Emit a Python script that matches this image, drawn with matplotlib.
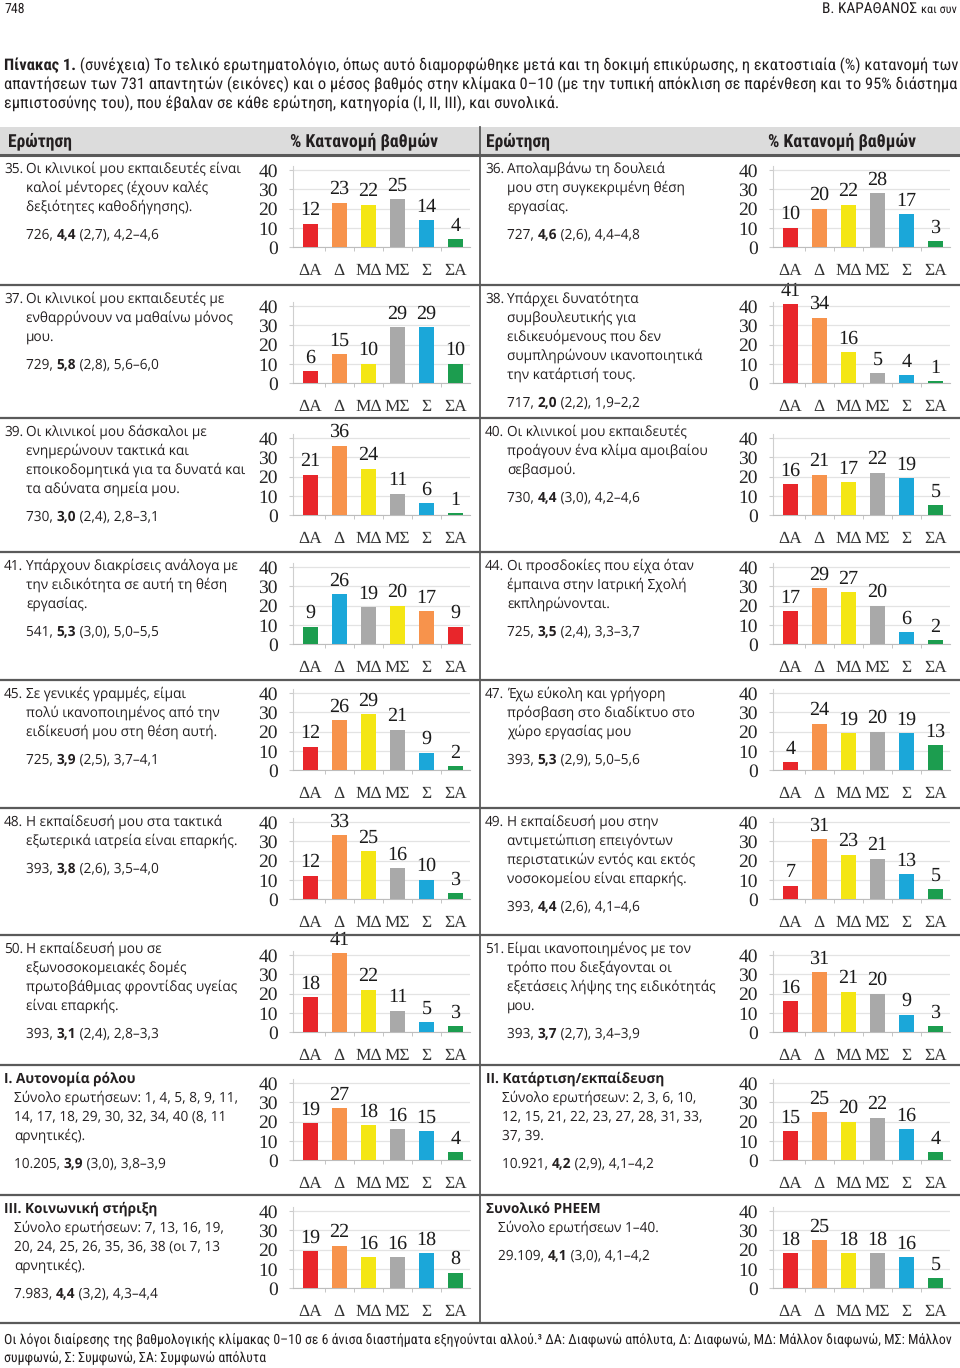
import matplotlib
matplotlib.use('Agg')
import matplotlib.pyplot as plt
from matplotlib.lines import Line2D
from matplotlib.patches import Rectangle
from matplotlib.textpath import TextToPath
from matplotlib.font_manager import FontProperties

plt.rcParams['text.hinting'] = 'no_hinting'

W, H = 960, 1368
COND = ['Roboto Condensed', 'Liberation Sans Narrow', 'Roboto', 'DejaVu Sans']
BODY = ['Open Sans', 'DejaVu Sans']
SERIF = ['Liberation Serif', 'DejaVu Serif']

cats = ['ΔΑ', 'Δ', 'ΜΔ', 'ΜΣ', 'Σ', 'ΣΑ']
colors = ['#e8262b', '#f7934c', '#f4e614', '#a9a9a9', '#1ba7d9', '#1c9d4f']

# % distribution per question
q35 = [12, 23, 22, 25, 14, 4]
q36 = [10, 20, 22, 28, 17, 3]
q37 = [6, 15, 10, 29, 29, 10]
q38 = [41, 34, 16, 5, 4, 1]
q39 = [21, 36, 24, 11, 6, 1]
q40 = [16, 21, 17, 22, 19, 5]
q41 = [9, 26, 19, 20, 17, 9]
q44 = [17, 29, 27, 20, 6, 2]
q45 = [12, 26, 29, 21, 9, 2]
q47 = [4, 24, 19, 20, 19, 13]
q48 = [12, 33, 25, 16, 10, 3]
q49 = [7, 31, 23, 21, 13, 5]
q50 = [18, 41, 22, 11, 5, 3]
q51 = [16, 31, 21, 20, 9, 3]
cat1 = [19, 27, 18, 16, 15, 4]
cat2 = [15, 25, 20, 22, 16, 4]
cat3 = [19, 22, 16, 16, 18, 8]
total = [18, 25, 18, 18, 16, 5]

# question texts
t35 = ['Οι κλινικοί μου εκπαιδευτές είναι', 'καλοί μέντορες (έχουν καλές', 'δεξιότητες καθοδήγησης).']
t36 = ['Απολαμβάνω τη δουλειά', 'μου στη συγκεκριμένη θέση', 'εργασίας.']
t37 = ['Οι κλινικοί μου εκπαιδευτές με', 'ενθαρρύνουν να μαθαίνω μόνος', 'μου.']
t38 = ['Υπάρχει δυνατότητα', 'συμβουλευτικής για', 'ειδικευόμενους που δεν',
       'συμπληρώνουν ικανοποιητικά', 'την κατάρτισή τους.']
t39 = ['Οι κλινικοί μου δάσκαλοι με', 'ενημερώνουν τακτικά και',
       'εποικοδομητικά για τα δυνατά και', 'τα αδύνατα σημεία μου.']
t40 = ['Οι κλινικοί μου εκπαιδευτές', 'προάγουν ένα κλίμα αμοιβαίου', 'σεβασμού.']
t41 = ['Υπάρχουν διακρίσεις ανάλογα με', 'την ειδικότητα σε αυτή τη θέση', 'εργασίας.']
t44 = ['Οι προσδοκίες που είχα όταν', 'έμπαινα στην Ιατρική Σχολή', 'εκπληρώνονται.']
t45 = ['Σε γενικές γραμμές, είμαι', 'πολύ ικανοποιημένος από την', 'ειδίκευσή μου στη θέση αυτή.']
t47 = ['Έχω εύκολη και γρήγορη', 'πρόσβαση στο διαδίκτυο στο', 'χώρο εργασίας μου']
t48 = ['Η εκπαίδευσή μου στα τακτικά', 'εξωτερικά ιατρεία είναι επαρκής.']
t49 = ['Η εκπαίδευσή μου στην', 'αντιμετώπιση επειγόντων',
       'περιστατικών εντός και εκτός', 'νοσοκομείου είναι επαρκής.']
t50 = ['Η εκπαίδευσή μου σε', 'εξωνοσοκομειακές δομές',
       'πρωτοβάθμιας φροντίδας υγείας', 'είναι επαρκής.']
t51 = ['Είμαι ικανοποιημένος με τον', 'τρόπο που διεξάγονται οι',
       'εξετάσεις λήψης της ειδικότητάς', 'μου.']
tc1 = ['Σύνολο ερωτήσεων: 1, 4, 5, 8, 9, 11,', '14, 17, 18, 29, 30, 32, 34, 40 (8, 11', 'αρνητικές).']
tc2 = ['Σύνολο ερωτήσεων: 2, 3, 6, 10,', '12, 15, 21, 22, 23, 27, 28, 31, 33,', '37, 39.']
tc3 = ['Σύνολο ερωτήσεων: 7, 13, 16, 19,', '20, 24, 25, 26, 35, 36, 38 (οι 7, 13', 'αρνητικές).']
ttot = ['Σύνολο ερωτήσεων 1–40.']

# n, mean, (sd), CI
s35 = ('726', '4,4', '2,7', '4,2–4,6')
s36 = ('727', '4,6', '2,6', '4,4–4,8')
s37 = ('729', '5,8', '2,8', '5,6–6,0')
s38 = ('717', '2,0', '2,2', '1,9–2,2')
s39 = ('730', '3,0', '2,4', '2,8–3,1')
s40 = ('730', '4,4', '3,0', '4,2–4,6')
s41 = ('541', '5,3', '3,0', '5,0–5,5')
s44 = ('725', '3,5', '2,4', '3,3–3,7')
s45 = ('725', '3,9', '2,5', '3,7–4,1')
s47 = ('393', '5,3', '2,9', '5,0–5,6')
s48 = ('393', '3,8', '2,6', '3,5–4,0')
s49 = ('393', '4,4', '2,6', '4,1–4,6')
s50 = ('393', '3,1', '2,4', '2,8–3,3')
s51 = ('393', '3,7', '2,7', '3,4–3,9')
sc1 = ('10.205', '3,9', '3,0', '3,8–3,9')
sc2 = ('10.921', '4,2', '2,9', '4,1–4,2')
sc3 = ('7.983', '4,4', '3,2', '4,3–4,4')
stot = ('29.109', '4,1', '3,0', '4,1–4,2')

rows_y = [155, 285, 418, 552, 680, 808, 935, 1065, 1195, 1323]
zero_y = [247, 383, 515, 644, 770, 899, 1032, 1160, 1288]

fig = plt.figure(figsize=(W / 100, H / 100), dpi=100)
TXT = '#231f20'
t2p = TextToPath()


def fx(x):
    return x / W


def fy(y):
    return 1 - y / H


def hline(y, x0=0, x1=W, lw=1.6, c='#5a5a5a'):
    fig.add_artist(Line2D([fx(x0), fx(x1)], [fy(y), fy(y)], lw=lw, color=c))


def text_px(s, size, family, weight):
    fp = FontProperties(family=family, size=size, weight=weight)
    w, h, d = t2p.get_text_width_height_descent(s, fp, ismath=False)
    return w * 100 / 72


# invisible axes to host chained annotations
ann_ax = fig.add_axes([0, 0, 1, 1], zorder=10)
ann_ax.set_axis_off()
ann_ax.patch.set_alpha(0)


def chain_text(x, y, parts, size, family, width=None):
    # parts: list of (text, weight); pieces are placed one after another
    if width is not None:
        tot = sum(text_px(s, size, family, wgt) for s, wgt in parts)
        size = size * width / tot
    prev = fig.text(fx(x), fy(y), parts[0][0], fontsize=size, family=family,
                    fontweight=parts[0][1], va='center', ha='left', color=TXT)
    for s, wgt in parts[1:]:
        prev = ann_ax.annotate(s, xy=(1, 0.5), xycoords=prev, fontsize=size,
                               family=family, fontweight=wgt, va='center',
                               ha='left', color=TXT, annotation_clip=False)
    return size


def bar_chart(x_left, y0, vals, reverse=False):
    h = 77 * 42 / 40
    ax = fig.add_axes([fx(x_left), fy(y0), 177 / W, h / H])
    cols = colors[::-1] if reverse else colors
    xs = range(len(cats))
    ax.bar(xs, vals, width=0.52, color=cols, zorder=3)
    for i, v in enumerate(vals):
        ax.text(i, v + 2.2, str(v), ha='center', va='bottom', fontsize=14.5,
                family=SERIF, color='#1a1a1a', clip_on=False)
    ax.set_xlim(-0.6, 5.5)
    ax.set_ylim(0, 42)
    ax.set_yticks([0, 10, 20, 30, 40])
    ax.set_xticks(list(xs))
    ax.set_xticklabels(cats)
    ax.set_xticks([0.5, 1.5, 2.5, 3.5, 4.5], minor=True)
    ax.tick_params(axis='x', which='major', length=0, pad=12, labelsize=12.5,
                   labelcolor='#333333')
    ax.tick_params(axis='x', which='minor', length=3, color='#bbbbbb')
    ax.tick_params(axis='y', length=3, color='#cccccc', pad=8, labelsize=14,
                   labelcolor='#262626')
    for lab in ax.get_xticklabels() + ax.get_yticklabels():
        lab.set_family(SERIF)
    ax.grid(axis='y', color='#e3e3e3', lw=0.9, zorder=0)
    for sp in ['top', 'right']:
        ax.spines[sp].set_visible(False)
    ax.spines['left'].set_color('#cfcfcf')
    ax.spines['bottom'].set_color('#bdbdbd')
    ax.patch.set_alpha(0)
    return ax


FS = 9.8


def stats_line(x, y, stats):
    n, m, sd, ci = stats
    chain_text(x, y, [(n + ', ', 'normal'), (m, 'bold'),
                      (' (' + sd + '), ' + ci, 'normal')], FS, BODY)


def question(col, row, num, lines, stats):
    x0 = 4 if col == 0 else 485
    xt = x0 + 22
    y = rows_y[row] + 14
    fig.text(fx(x0), fy(y), num + '.', fontsize=FS, family=BODY,
             va='center', ha='left', color=TXT)
    for ln in lines:
        fig.text(fx(xt), fy(y), ln, fontsize=FS, family=BODY,
                 va='center', ha='left', color=TXT)
        y += 19
    stats_line(xt, y + 9, stats)


def category(col, row, title, lines, stats, indent):
    x0 = 4 if col == 0 else 486
    xt = x0 + indent
    y = rows_y[row] + 14
    fig.text(fx(x0), fy(y), title, fontsize=FS, family=BODY,
             fontweight='bold', va='center', ha='left', color=TXT)
    y += 19
    for ln in lines:
        fig.text(fx(xt), fy(y), ln, fontsize=FS, family=BODY,
                 va='center', ha='left', color=TXT)
        y += 19
    stats_line(xt, y + 9, stats)


# page header
fig.text(fx(4), fy(9), '748', fontsize=10, family=COND, va='center', color=TXT)
chain_text(822, 9, [('Β. ΚΑΡΑΘΑΝΟΣ', 'normal')], 10.5, COND, width=95)
chain_text(921, 10, [('και συν', 'normal')], 9, COND, width=36)

# caption
chain_text(4, 66, [('Πίνακας 1.', 'bold'),
                   (' (συνέχεια) Το τελικό ερωτηματολόγιο, όπως αυτό διαμορφώθηκε μετά και τη δοκιμή '
                    'επικύρωσης, η εκατοστιαία (%) κατανομή των', 'normal')], 11, COND, width=952)
cap_fs = chain_text(4, 85, [('απαντήσεων των 731 απαντητών (εικόνες) και ο μέσος βαθμός στην κλίμακα 0–10 '
                             '(με την τυπική απόκλιση σε παρένθεση και το 95% διάστημα', 'normal')],
                    11, COND, width=952)
fig.text(fx(4), fy(104), 'εμπιστοσύνης του), που έβαλαν σε κάθε ερώτηση, κατηγορία (Ι, ΙΙ, ΙΙΙ), και συνολικά.',
         fontsize=cap_fs, family=COND, va='center', color=TXT)

# table header band
fig.add_artist(Rectangle((0, fy(155)), 1, (155 - 127) / H, transform=fig.transFigure,
                         facecolor='#dcdcdc', edgecolor='none'))
for xh, xk in [(8, 290), (486, 768)]:
    chain_text(xh, 141, [('Ερώτηση', 'bold')], 11, COND, width=64)
    chain_text(xk, 141, [('% Κατανομή βαθμών', 'bold')], 11, COND, width=148)

for i, ry in enumerate(rows_y):
    hline(ry, lw=2.2 if i == 0 else 1.6)
fig.add_artist(Line2D([fx(480), fx(480)], [fy(127), fy(1323)], lw=1.3, color='#5a5a5a'))

# rows
left_q = [('35', t35, s35, q35), ('37', t37, s37, q37), ('39', t39, s39, q39),
          ('41', t41, s41, q41), ('45', t45, s45, q45), ('48', t48, s48, q48),
          ('50', t50, s50, q50)]
right_q = [('36', t36, s36, q36), ('38', t38, s38, q38), ('40', t40, s40, q40),
           ('44', t44, s44, q44), ('47', t47, s47, q47), ('49', t49, s49, q49),
           ('51', t51, s51, q51)]
for r in range(7):
    num, txt, st, vals = left_q[r]
    question(0, r, num, txt, st)
    bar_chart(293, zero_y[r], vals, reverse=(num == '41'))
    num, txt, st, vals = right_q[r]
    question(1, r, num, txt, st)
    bar_chart(773, zero_y[r], vals)

category(0, 7, 'I. Αυτονομία ρόλου', tc1, sc1, 10)
bar_chart(293, zero_y[7], cat1)
category(1, 7, 'II. Κατάρτιση/εκπαίδευση', tc2, sc2, 16)
bar_chart(773, zero_y[7], cat2)
category(0, 8, 'III. Κοινωνική στήριξη', tc3, sc3, 10)
bar_chart(293, zero_y[8], cat3)
category(1, 8, 'Συνολικό PHEEM', ttot, stot, 12)
bar_chart(773, zero_y[8], total)

# footnote
foot_fs = chain_text(4, 1341, [('Οι λόγοι διαίρεσης της βαθμολογικής κλίμακας 0–10 σε 6 άνισα διαστήματα '
                                'εξηγούνται αλλού.³ ΔΑ: Διαφωνώ απόλυτα, Δ: Διαφωνώ, ΜΔ: Μάλλον διαφωνώ, '
                                'ΜΣ: Μάλλον', 'normal')], 10, COND, width=950)
fig.text(fx(4), fy(1359), 'συμφωνώ, Σ: Συμφωνώ, ΣΑ: Συμφωνώ απόλυτα',
         fontsize=foot_fs, family=COND, va='center', color=TXT)

fig.savefig('out.png', dpi=100)
